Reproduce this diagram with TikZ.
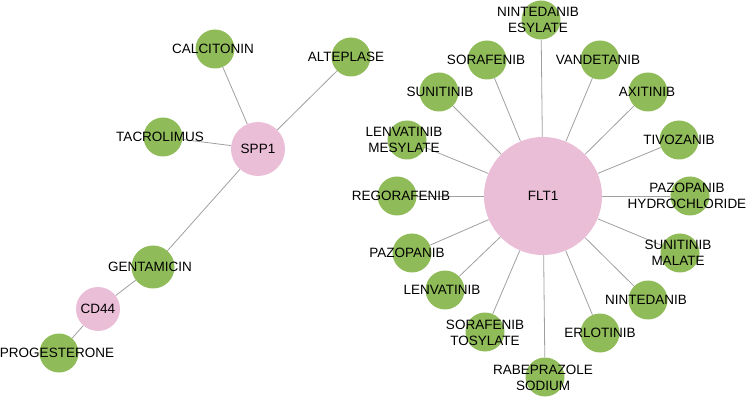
\documentclass[tikz,border=0pt]{standalone}
\usepackage{fontspec}
\setmainfont{Liberation Sans}
\usepackage{xcolor}
\usepackage{tikz}
\usetikzlibrary{backgrounds}
\definecolor{drugfill}{RGB}{143,187,88}
\definecolor{genefill}{RGB}{235,190,215}
\definecolor{edgegray}{RGB}{160,160,160}
\tikzset{
  drug/.style={
    circle,
    fill=drugfill,
    inner sep=0pt,
    minimum size=39pt
  },
  gene/.style={
    circle,
    fill=genefill,
    inner sep=0pt
  },
  tag/.style={
    font=\fontsize{13.5}{16.5}\selectfont,
    align=center,
    inner sep=0pt
  },
  link/.style={edgegray, line width=0.8pt}
}

\begin{document}
\begin{tikzpicture}[x=1pt, y=-1pt]
\useasboundingbox (0,0) rectangle (750,398);
% left cluster
\node[gene, minimum size=54pt] (spp1) at (258,149) {};
\node[gene, minimum size=44pt] (cd44) at (98,309) {};
\node[drug] (calcitonin) at (215,49) {};
\node[drug] (alteplase) at (351,57) {};
\node[drug] (tacrolimus) at (163,137) {};
\node[drug, minimum size=43pt] (gentamicin) at (153,267) {};
\node[drug] (progesterone) at (59,353) {};
% right cluster
\node[gene, minimum size=118pt] (flt1) at (543,196) {};
\node[drug] (nintesyl) at (541,20) {};
\node[drug] (sorafenib) at (487,60) {};
\node[drug] (vandetanib) at (600,60) {};
\node[drug] (sunitinib) at (439,92) {};
\node[drug] (axitinib) at (648,92) {};
\node[drug] (lenvmes) at (407,140) {};
\node[drug] (tivozanib) at (679,140) {};
\node[drug] (regorafenib) at (397,196) {};
\node[drug] (pazohcl) at (690,196) {};
\node[drug] (pazopanib) at (412,253) {};
\node[drug] (sunimal) at (680,253) {};
\node[drug] (lenvatinib) at (445,290) {};
\node[drug] (nintedanib) at (648,300) {};
\node[drug] (soratos) at (485,332) {};
\node[drug] (erlotinib) at (600,333) {};
\node[drug] (rabesod) at (545,377) {};

% edges
\begin{scope}[on background layer]
\foreach \d in {calcitonin,alteplase,tacrolimus,gentamicin}
  \draw[link] (spp1) -- (\d);
\draw[link] (gentamicin) -- (cd44);
\draw[link] (cd44) -- (progesterone);
\foreach \d in {nintesyl,sorafenib,vandetanib,sunitinib,axitinib,lenvmes,tivozanib,
  regorafenib,pazohcl,pazopanib,sunimal,lenvatinib,nintedanib,soratos,erlotinib,rabesod}
  \draw[link] (flt1) -- (\d);
\end{scope}

% labels
\node[tag] (spp1-t) at (258,149) {SPP1};
\node[tag] (cd44-t) at (98,309) {CD44};
\node[tag] (flt1-t) at (543,196) {FLT1};
\node[tag] (calcitonin-t) at (213,49) {CALCITONIN};
\node[tag] (alteplase-t) at (346,57) {ALTEPLASE};
\node[tag] (tacrolimus-t) at (160,137) {TACROLIMUS};
\node[tag] (gentamicin-t) at (150,267) {GENTAMICIN};
\node[tag] (progesterone-t) at (57,353) {PROGESTERONE};
\node[tag] (nintesyl-t) at (538,20) {NINTEDANIB\\ESYLATE};
\node[tag] (sorafenib-t) at (486,60) {SORAFENIB};
\node[tag] (vandetanib-t) at (598,60) {VANDETANIB};
\node[tag] (sunitinib-t) at (440,92) {SUNITINIB};
\node[tag] (axitinib-t) at (647,92) {AXITINIB};
\node[tag] (lenvmes-t) at (404,140) {LENVATINIB\\MESYLATE};
\node[tag] (tivozanib-t) at (679,140) {TIVOZANIB};
\node[tag] (regorafenib-t) at (401,196) {REGORAFENIB};
\node[tag] (pazohcl-t) at (687,196) {PAZOPANIB\\HYDROCHLORIDE};
\node[tag] (pazopanib-t) at (407,253) {PAZOPANIB};
\node[tag] (sunimal-t) at (678,253) {SUNITINIB\\MALATE};
\node[tag] (lenvatinib-t) at (442,290) {LENVATINIB};
\node[tag] (nintedanib-t) at (646,300) {NINTEDANIB};
\node[tag] (soratos-t) at (485,333) {SORAFENIB\\TOSYLATE};
\node[tag] (erlotinib-t) at (600,333) {ERLOTINIB};
\node[tag] (rabesod-t) at (543,378) {RABEPRAZOLE\\SODIUM};
\end{tikzpicture}
\end{document}
